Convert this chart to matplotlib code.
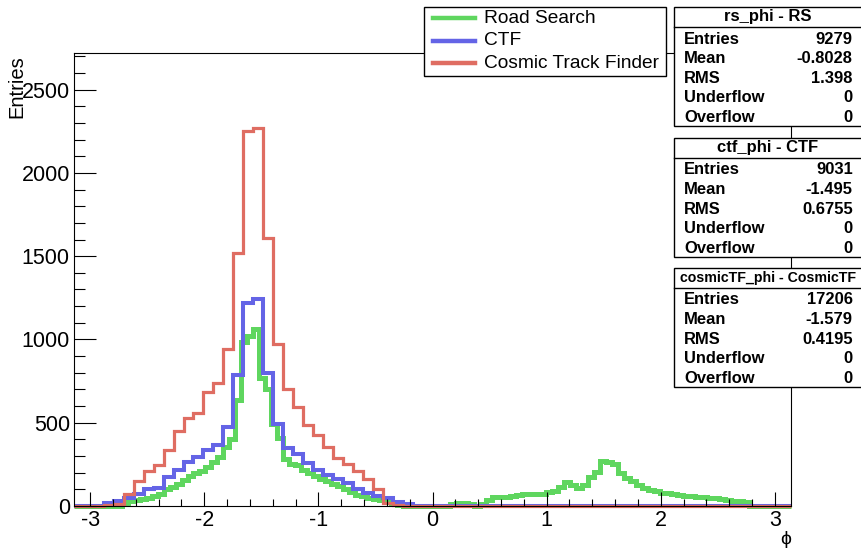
import numpy as np
import matplotlib.pyplot as plt
from matplotlib.patches import Rectangle
from matplotlib.lines import Line2D
from matplotlib.ticker import MultipleLocator

plt.rcParams['font.family'] = ['Liberation Sans', 'DejaVu Sans']
plt.rcParams['axes.unicode_minus'] = False

W, H = 861, 550

# Road Search: 120 bins over [-pi, pi]
rs_counts = [0, 0, 0, 0, 0, 0, 0, 0,
             20, 28, 36, 44, 50, 60, 75, 100, 112, 130, 158, 178, 200, 210, 235, 262, 292,
             355, 400, 635, 985, 1020, 1061, 771, 700, 491, 410, 280, 255, 245, 215, 200,
             180, 162, 148, 130, 118, 100, 85, 68, 58, 50, 44, 36, 22, 12, 5,
             0, 0, 0, 0, 0, 0, 0, 0,
             10, 18, 20, 15, 0, 15, 35,
             55, 57, 55, 60, 65, 70, 72, 75, 70,
             85, 90, 112, 143, 127, 107, 127, 173, 203,
             270, 262, 250, 200, 170, 150, 128, 110, 95, 88, 80, 76, 72,
             67, 63, 60, 55, 52, 50, 47, 43, 38, 33, 30, 25,
             0, 0, 0, 0, 0, 0, 0]

# CTF: 72 bins over [-pi, pi]
ctf_counts = [2, 2, 3, 18, 30, 46, 70, 100, 110, 175, 215, 262, 295, 338, 367, 477,
              787, 1216, 1240, 801, 491, 348, 310, 260, 214, 186, 164, 140, 100, 80,
              60, 46, 26, 10, 3, 2, 0, 0, 0, 0,
              1, 1, 1, 1, 1, 1, 1, 1, 1, 1, 1, 1, 1, 1, 1, 1, 1, 1, 1, 1,
              1, 1, 1, 1, 1, 1, 1, 1, 1, 0, 0, 0]

# Cosmic Track Finder: 72 bins over [-pi, pi]
ctf_cosmic_counts = [2, 3, 3, 5, 14, 70, 148, 213, 245, 336, 449, 526, 561, 684, 738, 942,
                     1522, 2250, 2270, 1612, 972, 705, 596, 484, 425, 355, 290, 250, 210, 165,
                     100, 20, 8, 3] + [0] * 38

legend_labels = ['Road Search', 'CTF', 'Cosmic Track Finder']

stat_titles = ['rs_phi - RS', 'ctf_phi - CTF', 'cosmicTF_phi - CosmicTF']
stat_names = ['Entries', 'Mean', 'RMS', 'Underflow', 'Overflow']
stat_values = [['9279', '-0.8028', '1.398', '0', '0'],
               ['9031', '-1.495', '0.6755', '0', '0'],
               ['17206', '-1.579', '0.4195', '0', '0']]

green = '#5fd65f'
blue = '#6464e6'
red = '#df6d62'
colors = [green, blue, red]


def fx(x):
    return x / W


def fy(y):
    return 1 - y / H


fig = plt.figure(figsize=(W / 100, H / 100), dpi=100)
ax = fig.add_axes([fx(74), fy(506), (791 - 74) / W, (506 - 53) / H])

edges72 = np.linspace(-np.pi, np.pi, 73)
edges120 = np.linspace(-np.pi, np.pi, 121)

ax.stairs(rs_counts, edges120, color=green, lw=3.6, clip_on=False)
ax.stairs(ctf_counts, edges72, color=blue, lw=2.9, clip_on=False)
ax.stairs(ctf_cosmic_counts, edges72, color=red, lw=2.3, clip_on=False)

ax.set_xlim(-np.pi, np.pi)
ax.set_ylim(0, 2720)
ax.xaxis.set_major_locator(MultipleLocator(1))
ax.xaxis.set_minor_locator(MultipleLocator(0.2))
ax.yaxis.set_major_locator(MultipleLocator(500))
ax.yaxis.set_minor_locator(MultipleLocator(100))
ax.tick_params(axis='both', which='both', direction='in', width=0.8, labelsize=15.5, pad=3)
ax.tick_params(axis='x', which='major', length=9.8)
ax.tick_params(axis='x', which='minor', length=5)
ax.tick_params(axis='y', which='major', length=15.8)
ax.tick_params(axis='y', which='minor', length=8)
for s in ax.spines.values():
    s.set_linewidth(0.8)

fig.text(fx(17), fy(55), 'Entries', rotation=90, ha='center', va='top', fontsize=14.5)
fig.text(fx(791), fy(531), 'ϕ', ha='right', va='top', fontsize=14)

# legend
fig.add_artist(Rectangle((fx(424), fy(76)), (665.7 - 424) / W, (76 - 6.7) / H,
                         transform=fig.transFigure, facecolor='white', edgecolor='black',
                         lw=1, zorder=5))
for label, c, yy in zip(legend_labels, colors, [18.3, 40.7, 63.3]):
    fig.add_artist(Line2D([fx(432.7), fx(475)], [fy(yy), fy(yy)], transform=fig.transFigure,
                          color=c, lw=3.2, zorder=6))
    fig.text(fx(484), fy(yy), label, ha='left', va='center', fontsize=13.8, zorder=6)

# stat boxes
box_tops = [6.7, 137.7, 267.7]
title_sizes = [12, 12, 10.2]
for title, vals, top, tsize in zip(stat_titles, stat_values, box_tops, title_sizes):
    bottom = top + 119.5
    fig.add_artist(Rectangle((fx(674.3), fy(bottom)), (862 - 674.3) / W, (bottom - top) / H,
                             transform=fig.transFigure, facecolor='white', edgecolor='black',
                             lw=1, zorder=5, clip_on=False))
    fig.add_artist(Line2D([fx(674.3), fx(862)], [fy(top + 20.5), fy(top + 20.5)],
                          transform=fig.transFigure, color='black', lw=1, zorder=6))
    fig.text(fx(768), fy(top + 10), title, ha='center', va='center', fontsize=tsize,
             fontweight='bold', zorder=6)
    for k, (name, v) in enumerate(zip(stat_names, vals)):
        yy = top + 32.3 + k * 19.6
        fig.text(fx(684.3), fy(yy), name, ha='left', va='center', fontsize=11.9,
                 fontweight='bold', zorder=6)
        fig.text(fx(852.7), fy(yy), v, ha='right', va='center', fontsize=11.9,
                 fontweight='bold', zorder=6)

fig.savefig('out.png', dpi=100)
